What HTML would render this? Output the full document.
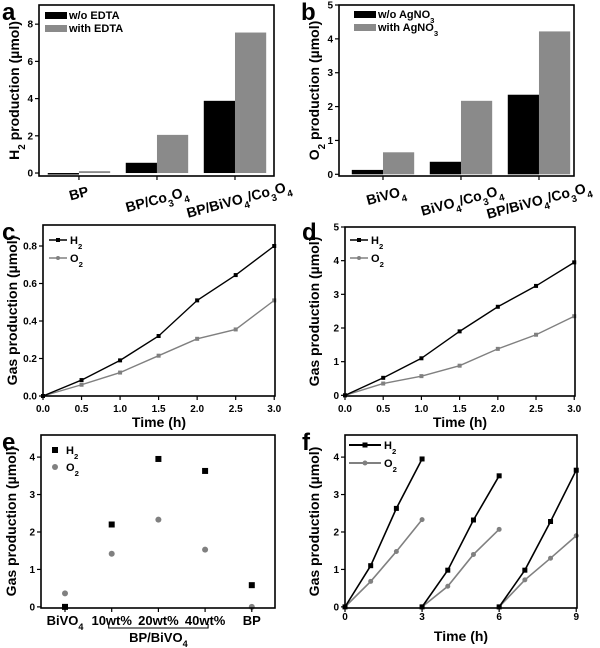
<!DOCTYPE html>
<html><head><meta charset="utf-8"><style>
body{margin:0;background:#fff}
svg{display:block;font-family:"Liberation Sans",sans-serif;font-weight:bold}
</style></head><body>
<svg id="fig" width="600" height="648" viewBox="0 0 600 648"></svg>
<script>
// ---- data ----
const aCategories = ["BP","BP/Co3O4","BP/BiVO4/Co3O4"];
const aWithout = [-0.05, 0.55, 3.88];
const aWith = [0.1, 2.05, 7.55];
const aTicks = [0,2,4,6,8];
const bCategories = ["BiVO4","BiVO4/Co3O4","BP/BiVO4/Co3O4"];
const bWithout = [0.13, 0.37, 2.35];
const bWith = [0.65, 2.17, 4.22];
const bTicks = [0,1,2,3,4,5];
const cTime = [0,0.5,1,1.5,2,2.5,3];
const cH2 = [0,0.085,0.19,0.32,0.51,0.645,0.80];
const cO2 = [0,0.06,0.125,0.215,0.305,0.355,0.51];
const cTicks = [0,0.2,0.4,0.6,0.8];
const cTickLabels = ["0.0","0.2","0.4","0.6","0.8"];
const timeTicks = [0,0.5,1,1.5,2,2.5,3];
const timeTickLabels = ["0.0","0.5","1.0","1.5","2.0","2.5","3.0"];
const dTime = [0,0.5,1,1.5,2,2.5,3];
const dH2 = [0,0.52,1.1,1.9,2.63,3.25,3.95];
const dO2 = [0,0.35,0.57,0.88,1.38,1.8,2.35];
const dTicks = [0,1,2,3,4,5];
const eCategories = ["BiVO4","10wt%","20wt%","40wt%","BP"];
const eH2 = [0,2.2,3.95,3.63,0.58];
const eO2 = [0.36,1.42,2.33,1.53,0];
const eTicks = [0,1,2,3,4];
const fRunTimes = [[0,1,2,3],[3,4,5,6],[6,7,8,9]];
const fH2 = [[0,1.1,2.63,3.95],[0,0.98,2.32,3.5],[0,0.98,2.28,3.65]];
const fO2 = [[0,0.68,1.48,2.33],[0,0.55,1.4,2.07],[0,0.72,1.3,1.9]];
const fTicks = [0,1,2,3,4];
const fXTicks = [0,3,6,9];

const NS="http://www.w3.org/2000/svg";
const svg=document.getElementById('fig');
function mk(tag,attrs,parent,text){const e=document.createElementNS(NS,tag);for(const k in attrs)e.setAttribute(k,attrs[k]);if(text!==undefined)e.textContent=text;(parent||svg).appendChild(e);return e;}
function sub(t,parent){ // render text with digits after letters as subscripts
  const parts=t.split(/(\d)/);
  parts.forEach(p=>{if(p==='')return;if(/\d/.test(p)&&!/wt/.test(t)){const s=mk('tspan',{'baseline-shift':'sub','font-size':'70%'},parent,p);}else{mk('tspan',{},parent,p);}});
}
function panel(name,L,R,T,B,xmin,xmax,ymin,ymax){
  const g=mk('g',{});
  
  
  const sx=v=>L+(v-xmin)/(xmax-xmin)*(R-L);
  const sy=v=>B-(v-ymin)/(ymax-ymin)*(B-T);
  return {g,sx,sy,L,R,T,B};
}
function frame(p){const r=mk('rect',{x:p.L,y:p.T,width:p.R-p.L,height:p.B-p.T,fill:'none',stroke:'#000','stroke-width':1.6},p.g);}
function yAxis(p,ticks,labels){
  const g=mk('g',{},p.g);
  ticks.forEach((t,i)=>{const y=p.sy(t);mk('line',{x1:p.L-4,x2:p.L,y1:y,y2:y,stroke:'#000','stroke-width':1.2},g);
    const tx=mk('text',{x:p.L-6,y:y+3.5,'font-size':10,'text-anchor':'end'},g,labels?labels[i]:String(t));});
}
function xAxisNum(p,ticks,labels,ly){
  const g=mk('g',{},p.g);
  ticks.forEach((t,i)=>{const x=p.sx(t);mk('line',{x1:x,x2:x,y1:p.B,y2:p.B+4,stroke:'#000','stroke-width':1.2},g);
    const tx=mk('text',{x:x,y:ly,'font-size':10,'text-anchor':'middle'},g,labels[i]);});
}
function yTitle(p,x,txt){const cy=(p.T+p.B)/2;const t=mk('text',{x:x,y:cy,'font-size':14,'text-anchor':'middle',transform:`rotate(-90 ${x} ${cy})`},p.g);sub(txt,t);}
function xTitle(p,y,txt){const t=mk('text',{x:(p.L+p.R)/2,y:y,'font-size':14,'text-anchor':'middle'},p.g,txt);}
function plabel(x,y,l){const t=mk('text',{x:x,y:y,'font-size':24},svg,l);}
function bars(p,cats,s1,s2,labelPos){
  cats.forEach((c,i)=>{
    const y0=p.sy(0);
    let x1=Math.max(p.sx(i-0.4),p.L),x2=p.sx(i);
    let y=p.sy(s1[i]);
    const r1=mk('rect',{x:x1,y:Math.min(y,y0),width:x2-x1,height:Math.max(Math.abs(y0-y),1.5),fill:'#000'},p.g);
    
    y=p.sy(s2[i]);
    const r2=mk('rect',{x:x2,y:Math.min(y,y0),width:p.sx(i+0.4)-x2,height:Math.abs(y0-y),fill:'#8a8a8a'},p.g);
    
    mk('line',{x1:p.sx(i),x2:p.sx(i),y1:p.B,y2:p.B+4,stroke:'#000','stroke-width':1.2},p.g);
    const [lx,ly]=labelPos[i];
    const t=mk('text',{x:lx,y:ly,'font-size':14,'text-anchor':'middle',transform:`rotate(-15 ${lx} ${ly})`},p.g);sub(c,t);
    
  });
}
function barLegend(p,x,y,l1,l2){
  const g=mk('g',{},p.g);
  mk('rect',{x:x,y:y,width:22,height:7,fill:'#000'},g);
  let t=mk('text',{x:x+24,y:y+7,'font-size':11},g);sub(l1,t);
  mk('rect',{x:x,y:y+13,width:22,height:7,fill:'#8a8a8a'},g);
  t=mk('text',{x:x+24,y:y+20,'font-size':11},g);sub(l2,t);
}
function line(p,xs,ys,color,w,marker,ms,name){
  const pts=xs.map((x,i)=>p.sx(x)+','+p.sy(ys[i])).join(' ');
  const pl=mk('polyline',{points:pts,fill:'none',stroke:color,'stroke-width':w},p.g);
  
  xs.forEach((x,i)=>pt(p,p.sx(x),p.sy(ys[i]),color,marker,ms,name));
}
function pt(p,x,y,color,marker,ms,name){
  let m;
  if(marker==='sq')m=mk('rect',{x:x-ms/2,y:y-ms/2,width:ms,height:ms,fill:color},p.g);
  else m=mk('circle',{cx:x,cy:y,r:ms/2,fill:color},p.g);
  
}
function lineLegend(p,x,y,len,w,ms){
  const g=mk('g',{},p.g);
  mk('line',{x1:x,x2:x+len,y1:y,y2:y,stroke:'#000','stroke-width':w},g);
  mk('rect',{x:x+len/2-ms/2,y:y-ms/2,width:ms,height:ms,fill:'#000'},g);
  let t=mk('text',{x:x+len+3,y:y+4,'font-size':11},g);sub('H2',t);
  mk('line',{x1:x,x2:x+len,y1:y+18,y2:y+18,stroke:'#808080','stroke-width':w},g);
  mk('circle',{cx:x+len/2,cy:y+18,r:ms/2,fill:'#808080'},g);
  t=mk('text',{x:x+len+3,y:y+22,'font-size':11},g);sub('O2',t);
}

// ---- panel a ----
let p=panel('panel-a-h2-bar-chart',39,274,5,176,-0.512,2.5,-0.16,9.03);
bars(p,aCategories,aWithout,aWith,[[80,198],[158,204],[240,204]]);
yAxis(p,aTicks);frame(p);yTitle(p,19,'H2 production (µmol)');barLegend(p,45,12,'w/o EDTA','with EDTA');
plabel(2,20,'a');
// ---- panel b ----
p=panel('panel-b-o2-bar-chart',339,574,5,176,-0.564,2.449,-0.05,5);
bars(p,bCategories,bWithout,bWith,[[387,200],[463,205],[540,205]]);
yAxis(p,bTicks);frame(p);yTitle(p,319,'O2 production (µmol)');barLegend(p,354,11,'w/o AgNO3','with AgNO3');
plabel(301,20,'b');
// ---- panel c ----
p=panel('panel-c-time-course',43,275,225,396,0,3.01,0,0.912);
line(p,cTime,cO2,'#808080',1.4,'sq',4,'o2');
line(p,cTime,cH2,'#000',1.4,'sq',4,'h2');
yAxis(p,cTicks,cTickLabels);xAxisNum(p,timeTicks,timeTickLabels,412);frame(p);
yTitle(p,17,'Gas production (µmol)');xTitle(p,427,'Time (h)');lineLegend(p,49,240,18,1.4,4);
plabel(2,240,'c');
// ---- panel d ----
p=panel('panel-d-time-course',345,575,227,396,0,3.01,-0.02,5);
line(p,dTime,dO2,'#808080',1.4,'sq',4,'o2');
line(p,dTime,dH2,'#000',1.4,'sq',4,'h2');
yAxis(p,dTicks);xAxisNum(p,timeTicks,timeTickLabels,412);frame(p);
yTitle(p,319,'Gas production (µmol)');xTitle(p,427,'Time (h)');lineLegend(p,350,240,18,1.4,4);
plabel(302,240,'d');
// ---- panel e ----
p=panel('panel-e-loading-scatter',41,275,435,608,-0.514,4.497,-0.03,4.59);
eCategories.forEach((c,i)=>{
  pt(p,p.sx(i),p.sy(eH2[i]),'#000','sq',6,'h2');
  pt(p,p.sx(i),p.sy(eO2[i]),'#808080','ci',6,'o2');
  mk('line',{x1:p.sx(i),x2:p.sx(i),y1:p.B,y2:p.B+4,stroke:'#000','stroke-width':1.2},p.g);
  const t=mk('text',{x:p.sx(i),y:625,'font-size':13,'text-anchor':'middle'},p.g);sub(c,t);
  
});
(function(){const g=mk('g',{},p.g);
 mk('path',{d:`M${p.sx(1)-3},624 V628 H${p.sx(3)+3} V624`,fill:'none',stroke:'#000','stroke-width':1},g);
 const t=mk('text',{x:p.sx(2),y:642,'font-size':13,'text-anchor':'middle'},g);sub('BP/BiVO4',t);})();
yAxis(p,eTicks);frame(p);yTitle(p,16,'Gas production (µmol)');
(function(){const g=mk('g',{},p.g);
 mk('rect',{x:52,y:447,width:6,height:6,fill:'#000'},g);let t=mk('text',{x:66,y:454,'font-size':11},g);sub('H2',t);
 mk('circle',{cx:55,cy:467,r:3,fill:'#808080'},g);t=mk('text',{x:66,y:471,'font-size':11},g);sub('O2',t);})();
plabel(2,450,'e');
// ---- panel f ----
p=panel('panel-f-cycling',345,577,435,608,0,9.03,-0.03,4.59);
fRunTimes.forEach((ts,r)=>{line(p,ts,fO2[r],'#808080',1.6,'ci',5,'o2');line(p,ts,fH2[r],'#000',1.6,'sq',5,'h2');});
yAxis(p,fTicks);xAxisNum(p,fXTicks,fXTicks.map(String),620);frame(p);
yTitle(p,319,'Gas production (µmol)');xTitle(p,641,'Time (h)');lineLegend(p,349,445,32,2,5);
plabel(302,450,'f');
</script>
</body></html>
